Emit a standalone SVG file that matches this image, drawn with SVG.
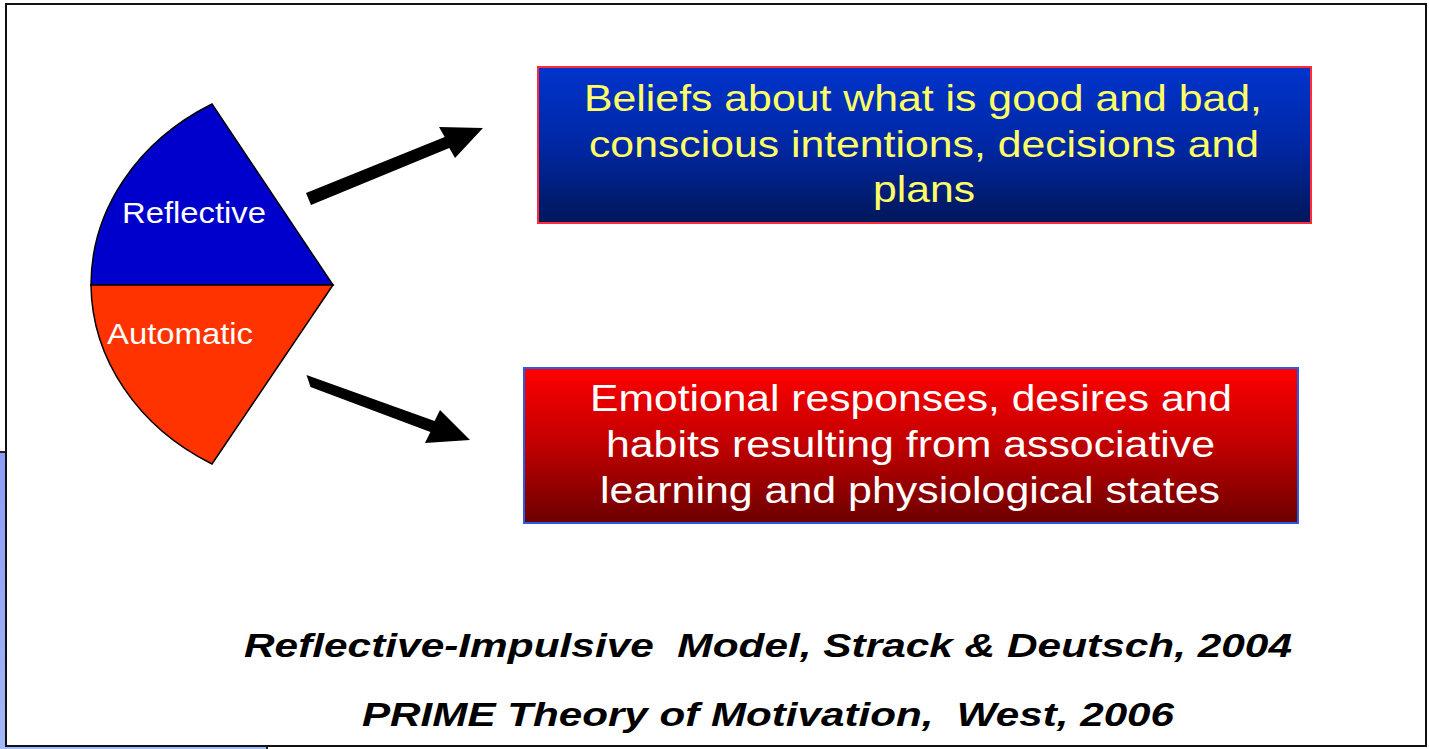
<svg xmlns="http://www.w3.org/2000/svg" width="1429" height="749" viewBox="0 0 1429 749">
  <defs>
    <linearGradient id="gradBlue" x1="0" y1="0" x2="0" y2="1">
      <stop offset="0" stop-color="#0034cc"/>
      <stop offset="0.5" stop-color="#0027a4"/>
      <stop offset="1" stop-color="#00175a"/>
    </linearGradient>
    <linearGradient id="gradRed" x1="0" y1="0" x2="0" y2="1">
      <stop offset="0" stop-color="#ff0000"/>
      <stop offset="0.5" stop-color="#c00000"/>
      <stop offset="1" stop-color="#6c0000"/>
    </linearGradient>
    <linearGradient id="gradPanel" x1="0" y1="0" x2="0" y2="1">
      <stop offset="0" stop-color="#8c9cf8"/>
      <stop offset="1" stop-color="#a2b8f6"/>
    </linearGradient>
  </defs>
  <style>
    .sans { font-family: "Liberation Sans", Arial, sans-serif; }
    .wedge-label { font-size: 30px; fill: #ffffff; }
    .box-text { font-size: 37px; text-anchor: middle; }
    .yellow { fill: #ffff66; }
    .white { fill: #ffffff; }
    .cite { font-size: 34px; font-weight: bold; font-style: italic; fill: #000000; text-anchor: middle; white-space: pre; }
    .arrow { fill: #000000; }
  </style>

  <rect x="0" y="0" width="1429" height="749" fill="#ffffff"/>

  <!-- panel peeking out behind the slide frame -->
  <rect x="-1" y="452" width="268" height="299" fill="url(#gradPanel)" stroke="#222222" stroke-width="2"/>

  <!-- slide frame -->
  <rect x="6" y="4" width="1420" height="742" fill="#ffffff" stroke="#111111" stroke-width="2"/>

  <!-- two-part wedge -->
  <g id="wedge-reflective">
    <path d="M333,285 L212,104 A242,209 0 0,0 91,285 Z" fill="#0000cc" stroke="#000000" stroke-width="1.5"/>
    <text class="sans wedge-label" x="122" y="223" textLength="144" lengthAdjust="spacingAndGlyphs">Reflective</text>
  </g>
  <g id="wedge-automatic">
    <path d="M333,285 L91,285 A242,209 0 0,0 212,464 Z" fill="#ff3300" stroke="#000000" stroke-width="1.5"/>
    <text class="sans wedge-label" x="107" y="344" textLength="146" lengthAdjust="spacingAndGlyphs">Automatic</text>
  </g>

  <!-- connectors -->
  <g id="connectors">
    <polygon class="arrow" points="306,193 444.7,137 439,127 483,128 455,158 449.3,148 311,205"/>
    <polygon class="arrow" points="306.5,375 434.6,420.9 440,410 470,440 425,443 430.4,432.1 310.5,387"/>
  </g>

  <!-- reflective outcomes -->
  <g id="box-beliefs">
    <rect x="538" y="67" width="773" height="156" fill="url(#gradBlue)" stroke="#ff2a3a" stroke-width="2"/>
    <text class="sans box-text yellow" x="923" y="111" textLength="678" lengthAdjust="spacingAndGlyphs">Beliefs about what is good and bad,</text>
    <text class="sans box-text yellow" x="924" y="157" textLength="670" lengthAdjust="spacingAndGlyphs">conscious intentions, decisions and</text>
    <text class="sans box-text yellow" x="924" y="202" textLength="102" lengthAdjust="spacingAndGlyphs">plans</text>
  </g>

  <!-- automatic outcomes -->
  <g id="box-emotional">
    <rect x="524" y="368" width="774" height="155" fill="url(#gradRed)" stroke="#2a5ae8" stroke-width="2"/>
    <text class="sans box-text white" x="911" y="411" textLength="642" lengthAdjust="spacingAndGlyphs">Emotional responses, desires and</text>
    <text class="sans box-text white" x="910.5" y="457" textLength="609" lengthAdjust="spacingAndGlyphs">habits resulting from associative</text>
    <text class="sans box-text white" x="910" y="503" textLength="620" lengthAdjust="spacingAndGlyphs">learning and physiological states</text>
  </g>

  <!-- references -->
  <g id="citations">
    <text class="sans cite" xml:space="preserve" x="768" y="657" textLength="1048" lengthAdjust="spacingAndGlyphs">Reflective-Impulsive  Model, Strack &amp; Deutsch, 2004</text>
    <text class="sans cite" xml:space="preserve" x="768" y="726" textLength="812" lengthAdjust="spacingAndGlyphs">PRIME Theory of Motivation,  West, 2006</text>
  </g>
</svg>
